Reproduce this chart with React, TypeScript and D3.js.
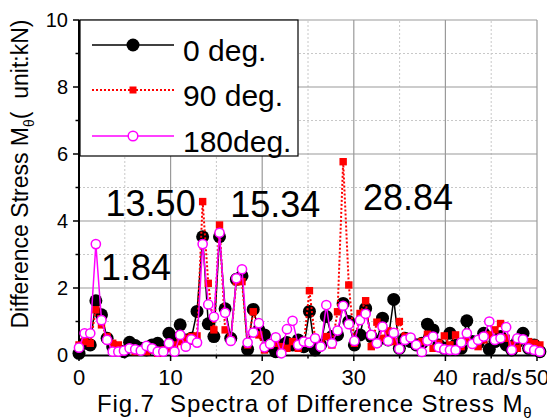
import { useEffect, useRef } from 'react'
import * as d3 from 'd3'

// frequency step of the spectrum (rad/s)
const dOmega = 0.61359
const deg0 = [
  0.05, 0.35, 0.3, 1.62, 1.2, 0.5, 0.25, 0.15, 0.1, 0.38, 0.28, 0.2, 0.15, 0.3, 0.35, 0.2, 0.65, 0.5, 0.9, 0.45,
  0.5, 1.3, 3.53, 0.93, 0.55, 3.53, 1.38, 0.5, 2.26, 2.36, 0.17, 1.36, 0.75, 0.6, 0.27, 0.1, 0.3, 0.37, 0.3, 0.45,
  0.25, 1.3, 0.15, 0.3, 1.15, 0.55, 0.6, 1.54, 1.0, 0.3, 0.6, 1.39, 0.55, 0.4, 1.1, 0.45, 1.66, 0.2, 0.5, 0.4,
  0.3, 0.35, 0.92, 0.75, 0.3, 0.2, 0.65, 0.3, 0.2, 1.02, 0.4, 0.35, 0.65, 0.17, 0.4, 0.55, 0.3, 0.15, 0.4, 0.65,
  0.2, 0.3, 0.1,
]
const deg90 = [
  0.3, 0.4, 0.35, 1.35, 0.9, 0.55, 0.35, 0.3, 0.15, 0.2, 0.1, 0.15, 0.1, 0.15, 0.05, 0.15, 0.2, 0.3, 0.4, 0.5,
  0.55, 0.57, 4.58, 2.14, 0.75, 3.88, 0.75, 0.45, 2.19, 2.19, 0.3, 1.29, 0.6, 0.15, 0.3, 0.35, 0.25, 0.2, 0.4, 0.2,
  0.35, 1.92, 0.5, 0.3, 0.55, 0.3, 1.29, 5.77, 2.09, 0.35, 1.24, 1.62, 0.25, 0.98, 0.5, 0.72, 0.4, 1.0, 0.55, 0.5,
  0.3, 0.4, 0.62, 0.2, 0.35, 0.57, 0.3, 0.6, 0.25, 0.45, 0.35, 0.25, 0.45, 0.6, 0.75, 0.94, 0.5, 0.3, 0.2, 0.45,
  0.4, 0.35, 0.3,
]
const deg180 = [
  0.22, 0.65, 0.65, 3.31, 1.04, 0.45, 0.1, 0.1, 0.13, 0.2, 0.17, 0.13, 0.27, 0.2, 0.1, 0.1, 0.35, 0.1, 0.6, 0.25,
  0.47, 0.37, 3.31, 1.51, 1.14, 3.65, 1.26, 0.42, 2.29, 2.56, 0.37, 0.67, 0.95, 0.23, 0.33, 0.53, 0.05, 0.77, 1.02, 0.3,
  0.4, 0.37, 0.5, 0.25, 1.49, 0.35, 0.73, 1.47, 0.92, 0.42, 1.04, 1.23, 0.6, 0.35, 0.85, 0.42, 0.66, 0.18, 0.45, 0.52,
  0.3, 0.09, 0.43, 0.55, 0.23, 0.17, 0.15, 0.15, 0.37, 0.65, 0.33, 0.45, 0.55, 1.0, 0.45, 0.5, 0.83, 0.15, 0.5, 0.47,
  0.2, 0.15, 0.1,
]
const xTicks = [0, 10, 20, 30, 40, 50]
const yTicks = [0, 2, 4, 6, 8, 10]
const peakLabels = [
  { text: '13.50', x: 2.9, y: 4.14 },
  { text: '15.34', x: 16.5, y: 4.12 },
  { text: '28.84', x: 31.0, y: 4.33 },
  { text: '1.84', x: 2.4, y: 2.24 },
]
const legendNames = ['0 deg.', '90 deg.', '180deg.']

const W = 547
const H = 420
const margin = { top: 20, right: 10, bottom: 65, left: 79 }
const FONT = '"Liberation Sans", Arial, sans-serif'

export default function App() {
  const svgRef = useRef<SVGSVGElement>(null)

  useEffect(() => {
    if (!svgRef.current) return
    const svg = d3.select(svgRef.current)
    svg.selectAll('*').remove()

    const x = d3.scaleLinear().domain([0, 50]).range([margin.left, 537])
    const y = d3.scaleLinear().domain([0, 10]).range([H - margin.bottom, margin.top])

    // grid: dotted minor, solid major
    const grid = svg.append('g')
    d3.range(5, 50, 10).forEach(v => {
      grid.append('line').attr('x1', x(v)).attr('x2', x(v)).attr('y1', y(0)).attr('y2', y(10))
        .attr('stroke', '#c8c8c8').attr('stroke-dasharray', '2,2')
    })
    d3.range(1, 10, 2).forEach(v => {
      grid.append('line').attr('x1', x(0)).attr('x2', x(50)).attr('y1', y(v)).attr('y2', y(v))
        .attr('stroke', '#c8c8c8').attr('stroke-dasharray', '2,2')
    })
    xTicks.slice(1).forEach(v => {
      grid.append('line').attr('x1', x(v)).attr('x2', x(v)).attr('y1', y(0)).attr('y2', y(10))
        .attr('stroke', '#9a9a9a').attr('stroke-width', 1.2)
    })
    yTicks.slice(1).forEach(v => {
      grid.append('line').attr('x1', x(0)).attr('x2', x(50)).attr('y1', y(v)).attr('y2', y(v))
        .attr('stroke', '#9a9a9a').attr('stroke-width', 1.2)
    })

    // axes
    const xAxis = d3.axisBottom(x).tickValues(d3.range(0, 51, 5)).tickSize(0).tickFormat(() => '')
    svg.append('g').attr('transform', `translate(0,${y(0)})`).call(xAxis)
      .call(g => g.select('.domain').attr('stroke', '#000').attr('stroke-width', 2))
    const bottom = svg.append('g')
    d3.range(0, 51, 5).forEach(v => {
      bottom.append('line').attr('x1', x(v)).attr('x2', x(v)).attr('y1', y(0))
        .attr('y2', y(0) + (v % 10 === 0 ? 6 : 3.5)).attr('stroke', '#000').attr('stroke-width', 1.5)
    })
    xTicks.forEach(v => {
      bottom.append('text').attr('x', x(v)).attr('y', 385).attr('text-anchor', 'middle')
        .attr('font-family', FONT).attr('font-size', 22).text(v)
    })
    bottom.append('text').attr('x', 522).attr('y', 385).attr('text-anchor', 'end')
      .attr('font-family', FONT).attr('font-size', 22.5).text('rad/s')

    const left = svg.append('g')
    left.append('line').attr('x1', x(0)).attr('x2', x(0)).attr('y1', y(0) + 1).attr('y2', y(10))
      .attr('stroke', '#000').attr('stroke-width', 2)
    d3.range(0, 11, 1).forEach(v => {
      left.append('line').attr('x1', x(0)).attr('x2', x(0) - (v % 2 === 0 ? 6 : 3.5))
        .attr('y1', y(v)).attr('y2', y(v)).attr('stroke', '#000').attr('stroke-width', 1.5)
    })
    yTicks.forEach(v => {
      left.append('text').attr('x', 68).attr('y', y(v) + 7).attr('text-anchor', 'end')
        .attr('font-family', FONT).attr('font-size', 20).text(v)
    })

    // y title
    const yt = svg.append('text').attr('transform', `translate(28,174) rotate(-90)`)
      .attr('text-anchor', 'middle').attr('font-family', FONT).attr('font-size', 23)
    yt.append('tspan').text('Difference Stress M')
    yt.append('tspan').attr('font-size', 14).attr('dy', 6).text('θ')
    yt.append('tspan').attr('dy', -6).text('(\u00a0\u00a0unit:kN)')

    // caption
    const cap = svg.append('text').attr('x', 97).attr('y', 412).attr('font-family', FONT)
      .attr('font-size', 24).attr('letter-spacing', 0.9)
    cap.append('tspan').text('Fig.7\u00a0\u00a0Spectra of Difference Stress M')
    cap.append('tspan').attr('font-size', 15).attr('dy', 6).text('θ')

    // series
    const line = d3.line<number>().x((_, i) => x(i * dOmega)).y(d => y(d))
    const plot = svg.append('g')

    plot.append('path').datum(deg0).attr('d', line).attr('fill', 'none').attr('stroke', '#000').attr('stroke-width', 1.5)
    plot.selectAll('.m0').data(deg0).join('circle').attr('class', 'm0')
      .attr('cx', (_, i) => x(i * dOmega)).attr('cy', d => y(d)).attr('r', 6.5).attr('fill', '#000')

    plot.append('path').datum(deg90).attr('d', line).attr('fill', 'none').attr('stroke', '#ff0000')
      .attr('stroke-width', 2).attr('stroke-dasharray', '2,2')
    plot.selectAll('.m90').data(deg90).join('rect').attr('class', 'm90')
      .attr('x', (_, i) => x(i * dOmega) - 3.7).attr('y', d => y(d) - 3.7)
      .attr('width', 7.4).attr('height', 7.4).attr('fill', '#ff0000')

    plot.append('path').datum(deg180).attr('d', line).attr('fill', 'none').attr('stroke', '#ff00ff').attr('stroke-width', 1.5)
    plot.selectAll('.m180').data(deg180).join('circle').attr('class', 'm180')
      .attr('cx', (_, i) => x(i * dOmega)).attr('cy', d => y(d)).attr('r', 4.6)
      .attr('fill', '#fff').attr('stroke', '#ff00ff').attr('stroke-width', 1.5)

    // peak labels
    peakLabels.forEach(p => {
      svg.append('text').attr('x', x(p.x)).attr('y', y(p.y)).attr('font-family', FONT)
        .attr('font-size', 36).text(p.text)
    })

    // legend
    const lg = svg.append('g')
    lg.append('rect').attr('x', 80).attr('y', 20).attr('width', 218).attr('height', 136)
      .attr('fill', '#fff').attr('stroke', '#000').attr('stroke-width', 1.2)
    const rows = [45, 90, 136]
    rows.forEach((ry, i) => {
      const ln = lg.append('line').attr('x1', 92).attr('x2', 174).attr('y1', ry).attr('y2', ry)
      if (i === 0) {
        ln.attr('stroke', '#000').attr('stroke-width', 1.5)
        lg.append('circle').attr('cx', 133).attr('cy', ry).attr('r', 6.5).attr('fill', '#000')
      } else if (i === 1) {
        ln.attr('stroke', '#ff0000').attr('stroke-width', 2).attr('stroke-dasharray', '2,2')
        lg.append('rect').attr('x', 129.5).attr('y', ry - 3.5).attr('width', 7).attr('height', 7).attr('fill', '#ff0000')
      } else {
        ln.attr('stroke', '#ff00ff').attr('stroke-width', 1.5)
        lg.append('circle').attr('cx', 133).attr('cy', ry).attr('r', 4.8)
          .attr('fill', '#fff').attr('stroke', '#ff00ff').attr('stroke-width', 1.5)
      }
      lg.append('text').attr('x', 183).attr('y', ry + 15.5).attr('font-family', FONT)
        .attr('font-size', 30).text(legendNames[i])
    })
  }, [])

  return (
    <svg ref={svgRef} width={W} height={H}
      style={{ position: 'absolute', left: 0, top: 0, background: '#fff' }} />
  )
}
